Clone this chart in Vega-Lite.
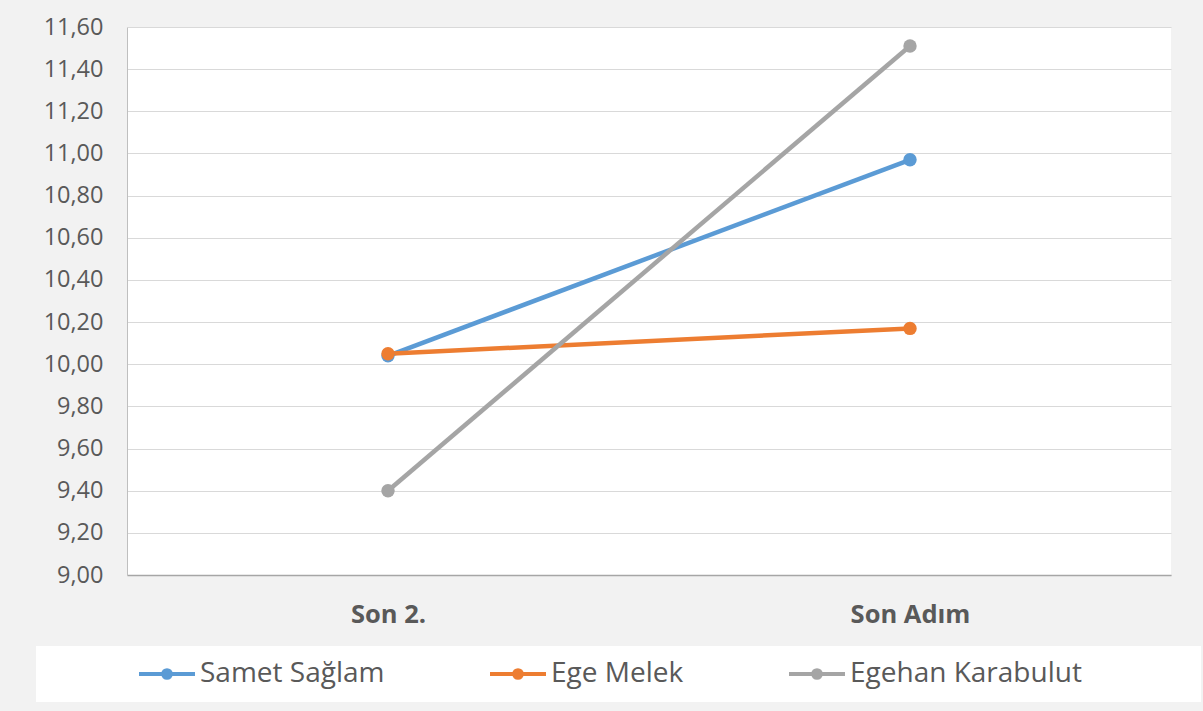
{
  "$schema": "https://vega.github.io/schema/vega-lite/v6.json",
  "width": 1044,
  "height": 548,
  "autosize": {"type": "none"},
  "padding": {"left": 127, "top": 27, "right": 32, "bottom": 136},
  "background": "#f2f2f2",
  "config": {
    "view": {"fill": "white", "stroke": null},
    "font": "Open Sans",
    "locale": {"number": {"decimal": ",", "thousands": ".", "grouping": [3], "currency": ["", " TL"]}}
  },
  "data": {
    "values": [
      {"t": "Son 2.", "s": "Samet Sağlam", "v": 10.04},
      {"t": "Son Adım", "s": "Samet Sağlam", "v": 10.97},
      {"t": "Son 2.", "s": "Ege Melek", "v": 10.05},
      {"t": "Son Adım", "s": "Ege Melek", "v": 10.17},
      {"t": "Son 2.", "s": "Egehan Karabulut", "v": 9.40},
      {"t": "Son Adım", "s": "Egehan Karabulut", "v": 11.51}
    ]
  },
  "mark": {"type": "line", "strokeWidth": 4.5, "point": {"filled": true, "size": 180, "opacity": 1}},
  "encoding": {
    "x": {
      "field": "t",
      "type": "nominal",
      "sort": ["Son 2.", "Son Adım"],
      "title": null,
      "axis": {
        "labelAngle": 0,
        "labelFontSize": 25.5,
        "labelFontWeight": "bold",
        "labelColor": "#595959",
        "labelPadding": 27,
        "ticks": false,
        "domainColor": "#a6a6a6",
        "domainWidth": 1.5,
        "grid": false
      }
    },
    "y": {
      "field": "v",
      "type": "quantitative",
      "title": null,
      "scale": {"domain": [9, 11.6], "nice": false, "zero": false},
      "axis": {
        "values": [9, 9.2, 9.4, 9.6, 9.8, 10, 10.2, 10.4, 10.6, 10.8, 11, 11.2, 11.4, 11.6],
        "format": ".2f",
        "labelFontSize": 23.5,
        "labelColor": "#595959",
        "labelPadding": 24,
        "ticks": false,
        "domain": true,
        "domainColor": "#bfbfbf",
        "gridColor": "#d9d9d9",
        "gridWidth": 1
      }
    },
    "color": {
      "field": "s",
      "type": "nominal",
      "sort": ["Samet Sağlam", "Ege Melek", "Egehan Karabulut"],
      "scale": {"domain": ["Samet Sağlam", "Ege Melek", "Egehan Karabulut"], "range": ["#5b9bd5", "#ed7d31", "#a5a5a5"]},
      "legend": {
        "orient": "none",
        "legendX": -91,
        "legendY": 619,
        "direction": "horizontal",
        "title": " ",
        "titleOrient": "left",
        "titleFontSize": 1,
        "titlePadding": 82,
        "fillColor": "white",
        "padding": 14,
        "columnPadding": 97,
        "symbolType": "M-1,0H7M3.2,0A0.2,0.2,0,1,1,2.8,0A0.2,0.2,0,1,1,3.2,0M3.55,0A0.55,0.55,0,1,1,2.45,0A0.55,0.55,0,1,1,3.55,0",
        "symbolSize": 196,
        "symbolStrokeWidth": 4,
        "symbolOpacity": 1,
        "labelFontSize": 28,
        "labelColor": "#595959",
        "labelOffset": 40,
        "labelLimit": 700,
        "labelExpr": "datum.label == 'Egehan Karabulut' ? datum.label + '\u2800\u2800\u2800\u2800\u2800' : datum.label"
      }
    }
  }
}
